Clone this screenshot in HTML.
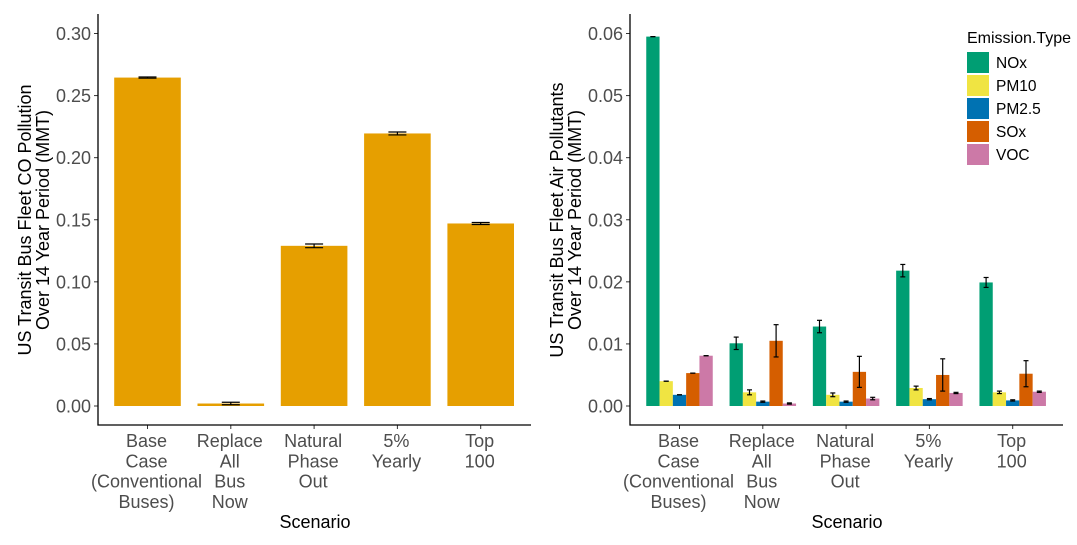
<!DOCTYPE html>
<html><head><meta charset="utf-8"><style>
body{margin:0;background:#fff}
svg{display:block;font-family:"Liberation Sans",Arial,sans-serif}
.tk{fill:#4d4d4d;font-size:18px}
.ti{fill:#000;font-size:18px}
</style></head><body>
<svg id="c" width="1077" height="545" xmlns="http://www.w3.org/2000/svg"></svg>
<script>
const categories=["Base|Case|(Conventional|Buses)","Replace|All|Bus|Now","Natural|Phase|Out","5%|Yearly","Top|100"];
const coValues=[0.2645,0.002,0.129,0.2195,0.147];
const coErrors=[0.0005,0.001,0.0015,0.0012,0.0008];
const leftTicks=["0.00","0.05","0.10","0.15","0.20","0.25","0.30"];
const emissionTypes=["NOx","PM10","PM2.5","SOx","VOC"];
const emissionColors=["#009E73","#F0E442","#0072B2","#D55E00","#CC79A7"];
const noxValues=[0.0595,0.0101,0.0128,0.0218,0.0199];
const pm10Values=[0.0040,0.0022,0.0018,0.0029,0.0022];
const pm25Values=[0.0018,0.0007,0.0007,0.0011,0.0009];
const soxValues=[0.0053,0.0105,0.0055,0.0050,0.0052];
const vocValues=[0.0081,0.0004,0.0012,0.0021,0.0023];
const noxErr=[0,0.0010,0.0010,0.0010,0.0008];
const pm10Err=[0,0.0004,0.0003,0.0003,0.0002];
const pm25Err=[0,0.0001,0.0001,0.0001,0.0001];
const soxErr=[0,0.0026,0.0025,0.0026,0.0021];
const vocErr=[0,0.0001,0.0002,0.0001,0.0001];
const rightTicks=["0.00","0.01","0.02","0.03","0.04","0.05","0.06"];

const svg=document.getElementById('c');const NS="http://www.w3.org/2000/svg";
function mk(t,a,txt){const e=document.createElementNS(NS,t);for(const k in a)e.setAttribute(k,a[k]);if(txt!==undefined)e.textContent=txt;svg.appendChild(e);return e;}

function panel(ax0,ymax,ticks,ytitle,prefix){
  const y0=406, pxPerUnit=(406-33.5)/ymax;
  const ys=v=>y0-v*pxPerUnit;
  const step=83.3, xc=i=>ax0+49.5+i*step;
  ticks.forEach(t=>{const y=ys(parseFloat(t));
    let e=mk('line',{x1:ax0-4,x2:ax0,y1:y,y2:y,stroke:'#333','stroke-width':1});
    
    e=mk('text',{x:ax0-7,y:y+6.5,'text-anchor':'end',class:'tk'},t);
    });
  categories.forEach((c,i)=>{const x=xc(i);
    let e=mk('line',{x1:x,x2:x,y1:425,y2:429,stroke:'#333','stroke-width':1});
    
    c.split('|').forEach((l,j)=>{e=mk('text',{x:x-1,y:447+j*20.3,'text-anchor':'middle',class:'tk'},l);
      });});
  let e=mk('text',{x:ax0+217,y:528,'text-anchor':'middle',class:'ti'},'Scenario');
  
  const tx=ax0-67;
  e=mk('text',{transform:`translate(${tx},220) rotate(-90)`,'text-anchor':'middle',class:'ti'});
  
  ytitle.forEach((l,j)=>{const s=document.createElementNS(NS,'tspan');s.setAttribute('x',0);s.setAttribute('y',j*18);s.textContent=l;e.appendChild(s);});
  return {ys,xc};
}
function errbar(x,y1,y2,w,name){
  const g=mk('g',{stroke:'#000','stroke-width':1.2,fill:'none'});
  
  [[x,y1,x,y2],[x-w,y1,x+w,y1],[x-w,y2,x+w,y2]].forEach(p=>{const l=document.createElementNS(NS,'line');
    l.setAttribute('x1',p[0]);l.setAttribute('y1',p[1]);l.setAttribute('x2',p[2]);l.setAttribute('y2',p[3]);g.appendChild(l);});
}
// left
const L=panel(98,0.30,leftTicks,["US Transit Bus Fleet CO Pollution","Over 14 Year Period (MMT)"],'left');
coValues.forEach((v,i)=>{const x=L.xc(i),bw=66.6;
  let e=mk('rect',{x:x-bw/2,y:L.ys(v),width:bw,height:L.ys(0)-L.ys(v),fill:'#E69F00'});
  
  errbar(x,L.ys(v-coErrors[i]),L.ys(v+coErrors[i]),9,'co-error-bar-'+i);});
// right
const R=panel(630,0.06,rightTicks,["US Transit Bus Fleet Air Pollutants","Over 14 Year Period (MMT)"],'right');
const series=[noxValues,pm10Values,pm25Values,soxValues,vocValues];
const errs=[noxErr,pm10Err,pm25Err,soxErr,vocErr];
series.forEach((vals,s)=>vals.forEach((v,i)=>{const bw=13.3,x=R.xc(i)+(s-2)*bw;
  let e=mk('rect',{x:x-bw/2,y:R.ys(v),width:bw,height:R.ys(0)-R.ys(v),fill:emissionColors[s]});
  
  errbar(x,R.ys(v-errs[s][i]),R.ys(v+errs[s][i]),2.5,'error-bar-'+emissionTypes[s].toLowerCase().replace('.','')+'-'+i);}));
// axes lines
[[98],[630]].forEach(([a],k)=>{let e=mk('path',{d:`M${a} 14V425H${a+433}`,stroke:'#000','stroke-width':1.3,fill:'none'});
  });
// legend
let e=mk('text',{x:967,y:43,style:'font-size:16px;fill:#000'},'Emission.Type');

emissionTypes.forEach((t,s)=>{const y=52+s*23;
  let r=mk('rect',{x:967,y:y,width:22,height:21,fill:emissionColors[s]});
  
  r=mk('text',{x:996,y:y+16,style:'font-size:15.5px;fill:#000'},t);
  });
</script></body></html>
